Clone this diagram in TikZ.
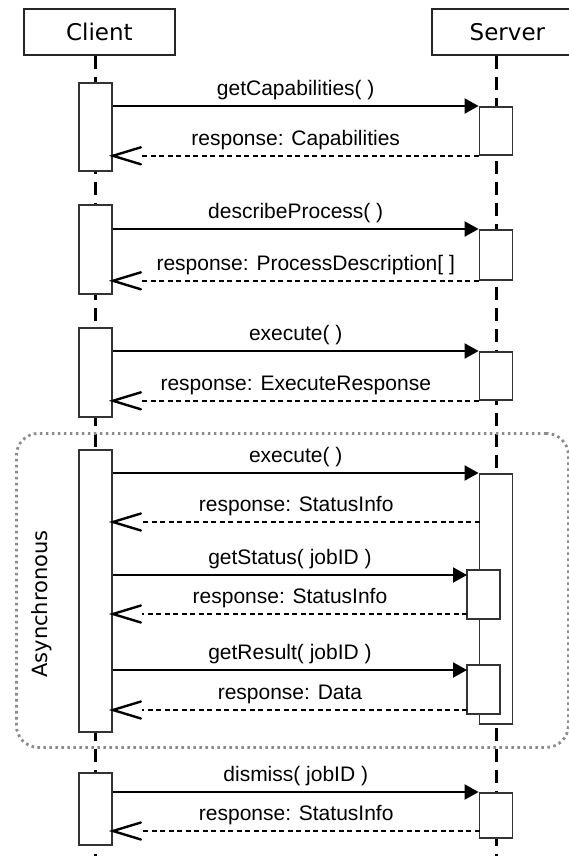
\documentclass[tikz,border=0pt]{standalone}
\usepackage{fontspec}
\setmainfont{Liberation Sans}
\newfontfamily\dvs{DejaVu Sans}
\usetikzlibrary{arrows.meta,decorations.markings}
\begin{document}
\begin{tikzpicture}[x=1pt,y=-1pt,
  lifebox/.style={draw=black!85, line width=1.8pt, fill=white, font=\dvs\fontsize{23}{27}\selectfont, minimum width=151pt, minimum height=46pt, inner sep=0pt, anchor=north west},
  act/.style={draw=black!80, line width=1.8pt, fill=white, minimum width=33pt, inner sep=0pt, anchor=north},
  lifeline/.style={line width=3pt, dash pattern=on 13pt off 8pt},
  call/.style={line width=2pt, -{Triangle[length=14pt,width=15pt]}},
  ret/.style={line width=1.6pt, dash pattern=on 5pt off 3.5pt, shorten >=29pt,
    decoration={markings, mark=at position 1 with {\draw[solid, shorten >=0pt, shorten <=0pt, line width=2.4pt, line cap=round, line join=miter] (-28pt,8.5pt) -- (0pt,0pt) -- (-28pt,-8.5pt);}},
    postaction={decorate}},
  msg/.style={font=\fontsize{21}{25}\selectfont, inner sep=0pt, above=5pt},
  frame/.style={draw=black!45, line width=2.8pt, dash pattern=on 2.6pt off 3.4pt, rounded corners=22pt, minimum width=552pt, minimum height=314pt, anchor=north west, inner sep=0pt}
]
\useasboundingbox (0,0) rectangle (569,856);
\clip (0,0) rectangle (569,856);

% lifeline heads
\node[lifebox] (client) at (23,8) {Client};
\node[lifebox] (server) at (431,8) {Server};
\coordinate (cb) at (95.5,860);
\coordinate (sb) at (496,860);
\draw[lifeline] (cb |- client.south) -- (cb);
\draw[lifeline] (sb |- server.south) -- (sb);

% asynchronous frame
\node[frame] (async) at (15,432) {};
\node[rotate=90, font=\dvs\fontsize{21}{25}\selectfont, inner sep=0pt] (asynclbl) at (42,604) {Asynchronous};

% activation boxes
\node[act, minimum height=88pt] (c1) at (95.5,82) {};
\node[act, minimum height=89pt] (c2) at (95.5,204) {};
\node[act, minimum height=89pt] (c3) at (95.5,327) {};
\node[act, minimum height=282pt] (c4) at (95.5,449) {};
\node[act, minimum height=72pt] (c5) at (95.5,772) {};

\node[act, minimum height=48pt] (s1) at (496,106) {};
\node[act, minimum height=50pt] (s2) at (496,229) {};
\node[act, minimum height=48pt] (s3) at (496,351) {};
\node[act, minimum height=250pt] (s4) at (496,473) {};
\node[act, minimum height=49pt] (n1) at (483.5,569) {};
\node[act, minimum height=49pt] (n2) at (483.5,664) {};
\node[act, minimum height=45pt] (s5) at (496,792) {};

% message points
\coordinate (r4) at (479.5,522);
\coordinate (q1) at (467,575);
\coordinate (q1r) at (467,614);
\coordinate (q2) at (467,670);
\coordinate (q2r) at (467,710);
\coordinate (r5) at (479.5,831);

% messages
\draw[call] (c1.east |- s1.north) -- (s1.north west) node[msg, midway] (m1) {getCapabilities( )};
\draw[ret] (s1.south west) -- (c1.east |- s1.south west) node[msg, midway] (m2) {response: Capabilities};

\draw[call] (c2.east |- s2.north) -- (s2.north west) node[msg, midway] (m3) {describeProcess( )};
\draw[ret] (s2.south west) -- (c2.east |- s2.south west) node[msg, midway, xshift=10pt] (m4) {response: ProcessDescription[ ]};

\draw[call] (c3.east |- s3.north) -- (s3.north west) node[msg, midway] (m5) {execute( )};
\draw[ret] (s3.south west) -- (c3.east |- s3.south west) node[msg, midway] (m6) {response: ExecuteResponse};

\draw[call] (c4.east |- s4.north) -- (s4.north west) node[msg, midway] (m7) {execute( )};
\draw[ret] (r4) -- (c4.east |- r4) node[msg, midway] (m8) {response: StatusInfo};
\draw[call] (c4.east |- q1) -- (q1) node[msg, midway] (m9) {getStatus( jobID )};
\draw[ret] (q1r) -- (c4.east |- q1r) node[msg, midway] (m10) {response: StatusInfo};
\draw[call] (c4.east |- q2) -- (q2) node[msg, midway] (m11) {getResult( jobID )};
\draw[ret] (q2r) -- (c4.east |- q2r) node[msg, midway] (m12) {response: Data};

\draw[call] (c5.east |- s5.north) -- (s5.north west) node[msg, midway] (m13) {dismiss( jobID )};
\draw[ret] (r5) -- (c5.east |- r5) node[msg, midway] (m14) {response: StatusInfo};
\end{tikzpicture}
\end{document}
